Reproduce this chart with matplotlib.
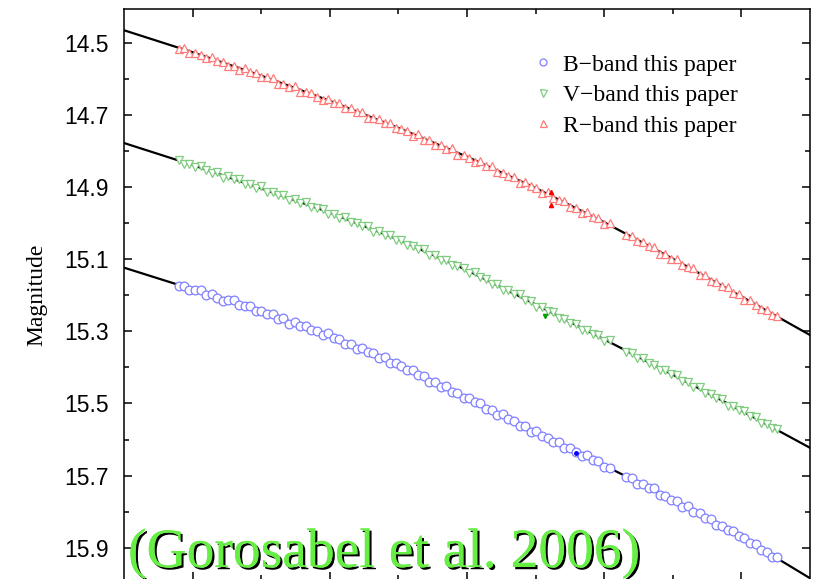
import matplotlib
matplotlib.use("Agg")
import matplotlib.pyplot as plt
import matplotlib.patheffects as pe
from matplotlib.ticker import FixedLocator, NullFormatter

# observation times (arbitrary units, x-axis labels are cropped in the original)
t_obs = [0.80, 0.88, 0.95, 1.04, 1.12, 1.19, 1.28, 1.36, 1.44, 1.51, 1.60, 1.68, 1.76, 1.83, 1.92, 2.00,
         2.09, 2.17, 2.25, 2.32, 2.41, 2.49, 2.57, 2.65, 2.73, 2.81, 2.90, 2.98, 3.06,
         3.14, 3.22, 3.31, 3.39, 3.47, 3.55, 3.63, 3.72, 3.80, 3.88, 3.96, 4.04,
         4.13, 4.21, 4.29, 4.37, 4.45, 4.54, 4.62, 4.70, 4.78, 4.86, 4.95, 5.03,
         5.11, 5.19, 5.27, 5.36, 5.44, 5.52, 5.60, 5.68, 5.77, 5.85, 5.93, 6.01,
         6.09, 6.18, 6.26, 6.34, 6.42, 6.50, 6.59, 6.67, 6.75, 6.83, 6.91, 7.00, 7.08,
         7.32, 7.40, 7.48, 7.57, 7.65, 7.73, 7.81, 7.89, 7.98, 8.06,
         8.14, 8.22, 8.30, 8.39, 8.47, 8.55, 8.63, 8.71, 8.80, 8.88, 8.96, 9.04,
         9.12, 9.21, 9.29, 9.37, 9.45, 9.52]

mag_R = [14.516, 14.514, 14.527, 14.526, 14.533, 14.542, 14.538, 14.550, 14.551, 14.562, 14.563, 14.575, 14.569, 14.580, 14.582, 14.595,
         14.594, 14.597, 14.612, 14.612, 14.622, 14.619, 14.636, 14.635, 14.637, 14.649, 14.658, 14.656, 14.666,
         14.665, 14.681, 14.681, 14.692, 14.691, 14.707, 14.707, 14.711, 14.722, 14.721, 14.736, 14.739,
         14.743, 14.757, 14.752, 14.768, 14.770, 14.782, 14.782, 14.793, 14.792, 14.810, 14.809, 14.818,
         14.829, 14.828, 14.841, 14.840, 14.858, 14.859, 14.869, 14.871, 14.888, 14.885, 14.897, 14.901,
         14.916, 14.914, 14.930, 14.934, 14.939, 14.954, 14.957, 14.972, 14.969, 14.983, 14.986, 15.002, 14.999,
         15.032, 15.036, 15.049, 15.052, 15.064, 15.066, 15.085, 15.085, 15.099, 15.100,
         15.115, 15.121, 15.125, 15.144, 15.144, 15.160, 15.163, 15.175, 15.176, 15.193, 15.197, 15.212,
         15.212, 15.226, 15.237, 15.240, 15.255, 15.257]

mag_V = [14.823, 14.836, 14.834, 14.844, 14.841, 14.852, 14.860, 14.857, 14.873, 14.869, 14.877, 14.877, 14.891, 14.891, 14.901, 14.897,
         14.914, 14.912, 14.921, 14.920, 14.936, 14.933, 14.943, 14.942, 14.956, 14.957, 14.960, 14.974, 14.973,
         14.984, 14.981, 14.997, 14.998, 15.007, 15.007, 15.023, 15.022, 15.031, 15.031, 15.045, 15.045,
         15.061, 15.062, 15.072, 15.070, 15.087, 15.089, 15.101, 15.101, 15.117, 15.118, 15.123, 15.138,
         15.135, 15.150, 15.155, 15.168, 15.168, 15.185, 15.185, 15.196, 15.197, 15.214, 15.215, 15.231,
         15.232, 15.244, 15.245, 15.262, 15.265, 15.277, 15.278, 15.296, 15.295, 15.307, 15.311, 15.327, 15.325,
         15.356, 15.359, 15.373, 15.374, 15.388, 15.393, 15.407, 15.406, 15.419, 15.421,
         15.438, 15.440, 15.453, 15.453, 15.472, 15.474, 15.485, 15.487, 15.506, 15.506, 15.517, 15.521,
         15.536, 15.537, 15.553, 15.557, 15.568, 15.571]

mag_B = [15.175, 15.173, 15.186, 15.184, 15.186, 15.198, 15.195, 15.207, 15.215, 15.212, 15.214, 15.227, 15.229, 15.230, 15.244, 15.243,
         15.252, 15.251, 15.265, 15.264, 15.278, 15.274, 15.284, 15.284, 15.297, 15.298, 15.310, 15.305, 15.319,
         15.321, 15.334, 15.334, 15.349, 15.345, 15.357, 15.361, 15.373, 15.372, 15.387, 15.387, 15.396,
         15.408, 15.406, 15.421, 15.423, 15.439, 15.441, 15.453, 15.452, 15.469, 15.470, 15.486, 15.485,
         15.496, 15.499, 15.514, 15.518, 15.532, 15.528, 15.544, 15.548, 15.562, 15.563, 15.579, 15.576,
         15.589, 15.596, 15.607, 15.607, 15.624, 15.624, 15.634, 15.646, 15.643, 15.658, 15.661, 15.677, 15.679,
         15.705, 15.706, 15.724, 15.724, 15.735, 15.736, 15.753, 15.756, 15.768, 15.770,
         15.786, 15.784, 15.800, 15.805, 15.819, 15.820, 15.838, 15.839, 15.852, 15.853, 15.868, 15.873,
         15.888, 15.891, 15.908, 15.912, 15.925, 15.926]

# model fits (black lines)
t_fit = [0, 1, 2, 3, 4, 5, 6, 7, 8, 9, 10]
fit_R = [14.464, 14.525, 14.590, 14.660, 14.735, 14.815, 14.902, 14.997, 15.098, 15.203, 15.310]
fit_V = [14.777, 14.838, 14.903, 14.970, 15.045, 15.130, 15.225, 15.322, 15.420, 15.520, 15.623]
fit_B = [15.123, 15.183, 15.244, 15.312, 15.392, 15.485, 15.580, 15.672, 15.767, 15.870, 15.985]

# a few highlighted points
hl_R_t = [6.22, 6.22]
hl_R_m = [14.913, 14.948]
hl_V_t = [6.14]
hl_V_m = [15.258]
hl_B_t = [6.59]
hl_B_m = [15.637]

y_major = [14.5, 14.7, 14.9, 15.1, 15.3, 15.5, 15.7, 15.9]
y_minor = [14.4, 14.6, 14.8, 15.0, 15.2, 15.4, 15.6, 15.8]
x_major = [1, 3, 5, 7, 9]
x_minor = [2, 4, 6, 8]

fig = plt.figure(figsize=(8.13, 5.79), dpi=100)
ax = fig.add_axes([124 / 813, -1 / 579, 686 / 813, 571 / 579])

ax.plot(t_fit, fit_R, color="black", lw=1.6, zorder=2)
ax.plot(t_fit, fit_V, color="black", lw=1.6, zorder=2)
ax.plot(t_fit, fit_B, color="black", lw=1.6, zorder=2)

ax.plot(t_obs, mag_B, "o", ms=6.3, mfc="white", mec="#8080ff", mew=0.9, zorder=3, label="B\u2212band this paper")
ax.plot(t_obs, mag_V, "v", ms=6.3, mfc="white", mec="#80cc80", mew=0.9, zorder=3, label="V\u2212band this paper")
ax.plot(t_obs, mag_R, "^", ms=6.3, mfc="white", mec="#ff7c7c", mew=0.9, zorder=3, label="R\u2212band this paper")

ax.plot(hl_R_t, hl_R_m, "^", ms=3, color="#ff0000", zorder=4)
ax.plot(hl_V_t, hl_V_m, "v", ms=3, color="#00a000", zorder=4)
ax.plot(hl_B_t, hl_B_m, "o", ms=2.5, color="#0000ff", zorder=4)

ax.set_xlim(0, 10)
ax.set_ylim(15.99, 14.405)

ax.xaxis.set_major_locator(FixedLocator(x_major))
ax.xaxis.set_minor_locator(FixedLocator(x_minor))
ax.xaxis.set_major_formatter(NullFormatter())
ax.yaxis.set_major_locator(FixedLocator(y_major))
ax.yaxis.set_minor_locator(FixedLocator(y_minor))
ax.set_yticklabels([f"{v:.1f}" for v in y_major], fontfamily="Liberation Sans", fontsize=16.5)

ax.tick_params(which="both", direction="in", top=True, right=True, width=1.1, pad=11)
ax.tick_params(which="major", length=6)
ax.tick_params(which="minor", length=3.5)
for s in ax.spines.values():
    s.set_linewidth(1.1)

ax.set_ylabel("Magnitude", fontfamily="Liberation Serif", fontsize=17, labelpad=12)

leg = ax.legend(loc="upper left", bbox_to_anchor=(0.594, 0.921), frameon=False, borderpad=0,
                borderaxespad=0, handlelength=1.0, handletextpad=0.35, labelspacing=0.38,
                prop={"family": "Liberation Serif", "size": 17}, markerscale=0.8)

fig.text(128 / 813, 1 - 567 / 579, "(Gorosabel et al. 2006)", fontfamily="Liberation Serif",
         fontsize=40, color="#66ee44", va="baseline", ha="left",
         path_effects=[pe.withSimplePatchShadow(offset=(1.6, -1.6), shadow_rgbFace="black", alpha=1.0),
                       pe.Normal()])

fig.savefig("out.png", dpi=100)
